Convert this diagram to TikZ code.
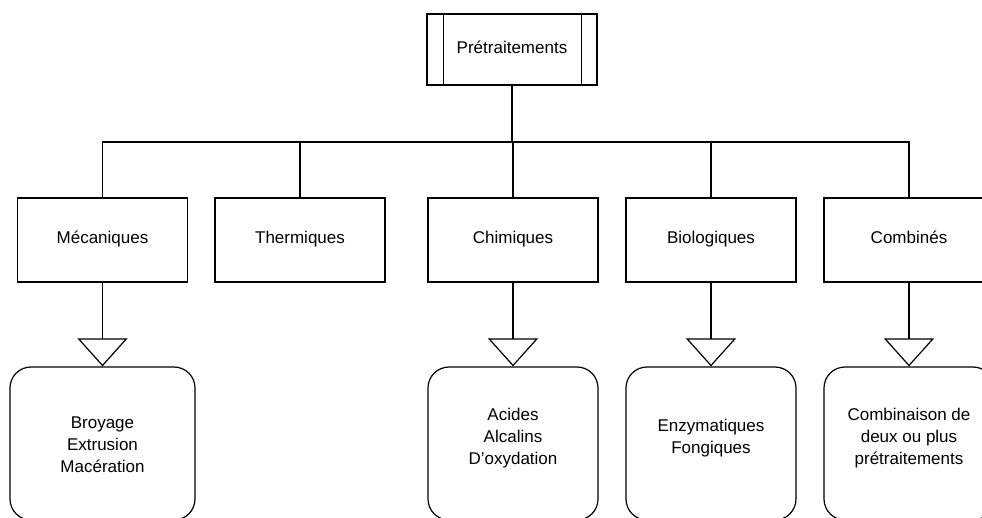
\documentclass[tikz,border=0pt]{standalone}
\usepackage{fontspec}
\setmainfont{Liberation Sans}
\usetikzlibrary{arrows.meta}

% texte décalé dans la boîte
\newcommand\haut[2][5pt]{\raisebox{#1}[\height][\depth]{\begin{tabular}{@{}c@{}}#2\end{tabular}}}

\begin{document}
\begin{tikzpicture}[x=1pt,y=-1pt,line width=1.2pt,
  boite/.style={draw,minimum width=170pt,minimum height=84pt,text height=12pt,text depth=4pt,font=\fontsize{17}{22}\selectfont},
  feuille/.style={draw,rounded corners=21pt,minimum width=170pt,minimum height=153pt,align=center,font=\fontsize{17}{22}\selectfont},
  fleche/.style={-{Triangle[open,length=28pt,width=50pt]}}]
  % cadre
  \path[clip] (0,0) rectangle (982,518);

  % racine
  \node[boite,minimum height=71pt] (pret) at (512,49.5) {Prétraitements};
  \draw ([xshift=17pt]pret.north west) -- ([xshift=17pt]pret.south west);
  \draw ([xshift=-16pt]pret.north east) -- ([xshift=-16pt]pret.south east);

  % catégories
  \node[boite] (meca) at (102.5,240) {Mécaniques};
  \node[boite] (ther) at (300,240) {Thermiques};
  \node[boite] (chim) at (513,240) {Chimiques};
  \node[boite] (biol) at (711,240) {Biologiques};
  \node[boite] (comb) at (909,240) {Combinés};

  % liaisons
  \coordinate (bus) at (512,142);
  \draw (pret.south) -- (bus);
  \draw (meca.north) |- (bus) -| (comb.north);
  \foreach \cat in {ther,chim,biol}
    \draw (\cat.north) -- (\cat.north |- bus);

  % détails
  \node[feuille,minimum width=185pt] (broy) at (102.5,443.5) {\haut[-3pt]{Broyage\\Extrusion\\Macération}};
  \node[feuille] (acid) at (513,443.5) {\haut{Acides\\Alcalins\\D'oxydation}};
  \node[feuille] (enzy) at (711,443.5) {\haut{Enzymatiques\\Fongiques}};
  \node[feuille] (mixt) at (909,443.5) {\haut{Combinaison de\\deux ou plus\\prétraitements}};

  \foreach \cat/\det in {meca/broy,chim/acid,biol/enzy,comb/mixt}
    \draw[fleche] (\cat.south) -- (\det.north);
\end{tikzpicture}
\end{document}
